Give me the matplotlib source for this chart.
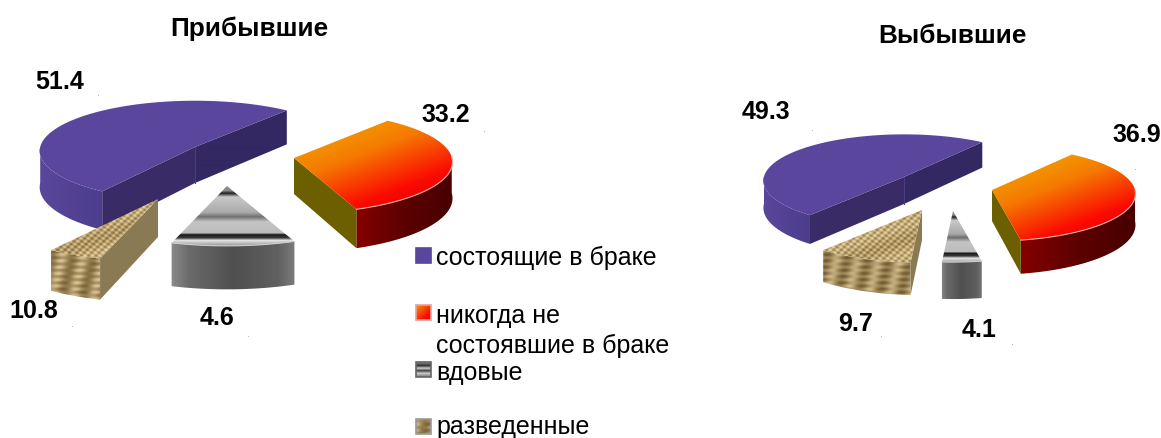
import numpy as np
import matplotlib
matplotlib.use("Agg")
import matplotlib.pyplot as plt
from matplotlib.patches import Polygon, Rectangle
from matplotlib.colors import to_rgb

# ---------- data ----------
titles = ["Прибывшие", "Выбывшие"]
categories = ["состоящие в браке", "никогда не\nсостоявшие в браке", "вдовые", "разведенные"]
arrived_drawn = [51.4, 33.2, 10.8, 4.6]      # married, never, widowed, divorced
departed_drawn = [49.3, 36.9, 4.1, 9.7]
arrived_labels = ["51.4", "33.2", "4.6", "10.8"]
departed_labels = ["49.3", "36.9", "4.1", "9.7"]

# ---------- layout (pixel space) ----------
W, H = 1161, 439
fig = plt.figure(figsize=(W / 100, H / 100), dpi=100, facecolor="white")
ax = fig.add_axes([0, 0, 1, 1])
FONT = "Liberation Sans"


def lerp_stops(f, stops):
    f = np.clip(f, 0, 1)
    pos = [s[0] for s in stops]
    cols = np.array([to_rgb(s[1]) for s in stops])
    return np.stack([np.interp(f, pos, cols[:, i]) for i in range(3)], axis=-1)


def fill(points, func, z):
    pts = np.asarray(points)
    x0, y0 = np.floor(pts.min(axis=0)) - 1
    x1, y1 = np.ceil(pts.max(axis=0)) + 1
    X, Y = np.meshgrid(np.arange(x0, x1 + 1), np.arange(y0, y1 + 1))
    rgb = func(X, Y, x0, x1, y0, y1)
    im = ax.imshow(rgb, extent=[x0 - .5, x1 + .5, y1 + .5, y0 - .5], origin="upper",
                   interpolation="bilinear", aspect="auto", zorder=z)
    im.set_clip_path(Polygon(pts, closed=True, transform=ax.transData))


def flat(col):
    c = np.array(to_rgb(col))
    return lambda X, Y, *a: np.broadcast_to(c, X.shape + (3,)).copy()


def hgrad(stops):
    return lambda X, Y, x0, x1, y0, y1: lerp_stops((X - x0) / max(x1 - x0, 1), stops)


def vgrad(stops):
    return lambda X, Y, x0, x1, y0, y1: lerp_stops((Y - y0) / max(y1 - y0, 1), stops)


def red_top(X, Y, x0, x1, y0, y1):
    d = 0.36 * X + 0.93 * Y
    lo, hi = 0.36 * x0 + 0.93 * y0 + 12, 0.36 * x1 + 0.93 * y1 - 4
    return lerp_stops((d - lo) / (hi - lo), [(0, "#f2a900"), (.35, "#f57a00"), (.72, "#fb0a00"),
                                             (.88, "#f00000"), (1, "#b80000")])


def wood_top(X, Y, *a):
    f = .5 + .25 * np.sin(X * .85 + Y * .9) + .2 * np.sin(X * .85 - Y * 1.3) + .12 * np.sin(X * .07 + Y * .2)
    return lerp_stops(f, [(0, "#8a7243"), (.5, "#bda36e"), (1, "#e6d3a6")])


def wood_front(X, Y, *a):
    f = .5 + .22 * np.sin(Y * 1.0) * np.cos(X * .16) + .26 * np.sin(X * .3 + Y * .08)
    return lerp_stops(f, [(0, "#6e5830"), (.5, "#a28a5a"), (1, "#dcc89a")])


GREY_TOP = [(0, "#8a8a8a"), (.1, "#8a8a8a"), (.14, "#202020"), (.2, "#c8c8c8"), (.45, "#aaaaaa"),
            (.52, "#707070"), (.6, "#c4c4c4"), (.78, "#bdbdbd"), (.81, "#1c1c1c"), (.86, "#3a3a3a"),
            (.9, "#e4e4e4"), (1, "#8e8e8e")]
GREY_WALL = [(0, "#8c8c8c"), (.15, "#6a6a6a"), (.5, "#4f4f4f"), (.85, "#606060"), (1, "#7e7e7e")]

PURPLE = dict(top=flat("#5a469c"), outer=hgrad([(0, "#5a479c"), (1, "#4c3d8c")]),
              radial0=flat("#332862"), radial1=flat("#382b66"), edge=None)
RED = dict(top=red_top, outer=hgrad([(0, "#860000"), (.5, "#5c0000"), (1, "#470000")]),
           radial0=flat("#6b5f00"), radial1=flat("#6b5f00"), edge="#f5b0a0")
GREY = dict(top=vgrad(GREY_TOP), outer=hgrad(GREY_WALL),
            radial0=flat("#666666"), radial1=flat("#666666"), edge="#cccccc")
WOOD = dict(top=wood_top, outer=wood_front, radial0=flat("#8b7a55"), radial1=flat("#8b7a55"), edge=None)
STYLES = [PURPLE, RED, GREY, WOOD]


def draw_pie(vals, centre, a, b, start, offsets, scales, depths, p=0.08):
    t = start
    for val, style, off, sc, dp in zip(vals, STYLES, offsets, scales, depths):
        # slices run clockwise from `start`, as in the source chart
        t0, t1 = t - 360 * val / sum(vals), t
        t = t0
        cx, cy = centre[0] + off[0], centre[1] + off[1]

        def proj(td, r=1.0, z=0.0):
            td = np.asarray(td, float)
            u, v = r * np.cos(np.radians(td)), r * np.sin(np.radians(td))
            s = 1 / (1 + p * v)
            return np.stack([cx + sc * a * u * s,
                             cy - sc * b * v * s + z * dp * s], axis=-1)

        arc = np.linspace(t0, t1, 80)
        top = np.vstack([proj(0, 0.0), proj(arc)])
        apex = proj(0, 0.0)
        apex_b = proj(0, 0.0, 1.0)

        walls = [(t0, np.cos(np.radians(t0)) > 0, style["radial0"]),
                 (t1, np.cos(np.radians(t1)) < 0, style["radial1"])]
        for td, vis, fn in walls:
            if vis:
                fill([apex, proj(td), proj(td, 1, 1), apex_b], fn, 3)
        # outer wall, only the part facing the viewer
        front = arc[np.sin(np.radians(arc)) < 0.02]
        if len(front) > 1:
            q = np.vstack([proj(front), proj(front[::-1], 1, 1)])
            fill(q, style["outer"], 2)
        fill(top, style["top"], 4)
        if style["edge"]:
            ax.plot(*proj(front).T, color=style["edge"], lw=.8, zorder=5, solid_capstyle="round")
        if style is PURPLE:
            ax.plot([apex[0], apex_b[0]], [apex[1], apex_b[1]], color="#4a3c86", lw=.7, zorder=5)


# ---------- pies ----------
draw_pie(arrived_drawn, (193, 147), 158, 51, 236,
         [(2, 1), (101, 12), (34, 40), (-35, 53)],
         [.98, 1.0, 1.08, 1.13], [36, 36, 40, 38])
draw_pie(departed_drawn, (902, 177), 143, 47, 231,
         [(2, 1), (90, 14), (51, 35), (20, 34)],
         [.98, 1.0, 1.0, 1.03], [27, 31, 34, 30])

# ---------- text ----------
ax.text(249, 29, titles[0], family=FONT, weight="bold", fontsize=18.8, ha="center", va="center")
ax.text(952, 36, titles[1], family=FONT, weight="bold", fontsize=18.8, ha="center", va="center")

lab_pos_l = [(60, 82), (446, 115), (217, 318), (34, 311)]
lab_pos_r = [(766, 112), (1137, 135), (979, 330), (856, 324)]
for s, (x, y) in zip(arrived_labels + departed_labels, lab_pos_l + lab_pos_r):
    ax.text(x, y, s, family=FONT, weight="bold", fontsize=18, ha="center", va="center")

# tiny leader specks
for x, y in [(98, 96), (484, 132), (72, 327), (248, 337), (881, 337), (1012, 345), (812, 131), (1135, 170)]:
    ax.add_patch(Rectangle((x - .5, y - .5), 1, 1, color="#b8b8b8", lw=0, zorder=1))

# ---------- legend ----------
leg_y = [249, 306, 363, 420]
txt_y = [[258], [316, 346], [373], [427]]
sw_fn = [flat("#5a469c"),
         lambda X, Y, x0, x1, y0, y1: lerp_stops(((X - x0) + (Y - y0)) / (x1 - x0 + y1 - y0),
                                                 [(0, "#f2a900"), (.7, "#fb0a00"), (1, "#e00000")]),
         vgrad([(0, "#bbbbbb"), (.3, "#333333"), (.45, "#cccccc"), (.6, "#444444"), (.75, "#cccccc"), (1, "#666666")]),
         wood_front]
borders = ["#5a469c", "#e8a0a0", "#666666", "#999999"]
for y, fn, bc in zip(leg_y, sw_fn, borders):
    fill([(416, y), (431, y), (431, y + 15), (416, y + 15)], fn, 3)
    ax.add_patch(Rectangle((416, y), 15, 15, fill=False, edgecolor=bc, lw=1.2, zorder=4))
for name, ys in zip(categories, txt_y):
    for line, y in zip(name.split("\n"), ys):
        ax.text(436, y, line, family=FONT, fontsize=18, ha="left", va="center", color="black")

ax.set_xlim(0, W)
ax.set_ylim(H, 0)
ax.axis("off")
fig.savefig("out.png", dpi=100, facecolor="white")
